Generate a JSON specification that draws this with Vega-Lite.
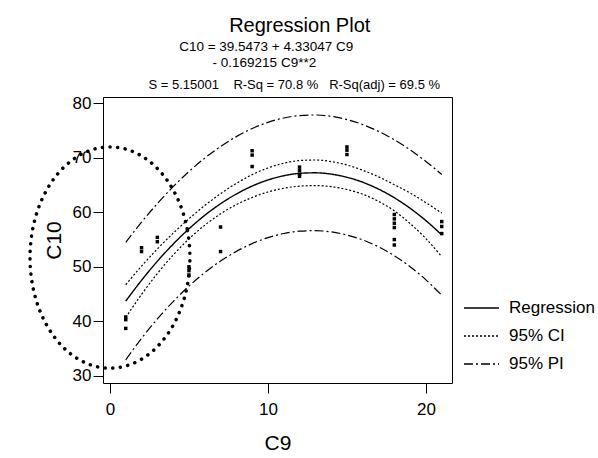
{
  "$schema": "https://vega.github.io/schema/vega-lite/v6.json",
  "width": 349,
  "height": 286,
  "autosize": {"type": "none"},
  "padding": {"left": 103, "top": 97, "right": 146, "bottom": 75},
  "background": "white",
  "config": {
    "font": "Liberation Sans",
    "view": {"stroke": "black", "strokeWidth": 1},
    "axis": {"grid": false, "domain": false, "tickColor": "black", "labelColor": "black", "titleColor": "black", "titleFontWeight": "normal", "labelFont": "Liberation Sans", "titleFont": "Liberation Sans"},
    "axisY": {"tickSize": 10, "labelFontSize": 17, "labelPadding": 2, "titleFontSize": 21, "titlePadding": 8, "labelFlush": false}
  },
  "title": {
    "text": "\u200b\u00a0\u00a0\u00a0\u00a0\u00a0\u00a0\u00a0\u00a0Regression Plot",
    "subtitle": ["C10 = 39.5473 + 4.33047 C9\u00a0\u00a0\u00a0\u00a0\u00a0\u00a0\u200b", "- 0.169215 C9**2\u00a0\u00a0\u00a0\u00a0\u00a0\u00a0\u00a0\u200b"],
    "anchor": "middle",
    "frame": "group",
    "font": "Liberation Sans",
    "subtitleFont": "Liberation Sans",
    "fontSize": 20,
    "fontWeight": "normal",
    "color": "black",
    "subtitleFontSize": 13.5,
    "subtitleColor": "black",
    "subtitleLineHeight": 16,
    "subtitlePadding": 4,
    "offset": 9
  },
  "datasets": {
    "pts": [
      {"x": 1, "y": 40.8}, {"x": 1, "y": 40.3}, {"x": 1, "y": 38.7},
      {"x": 2, "y": 53.5}, {"x": 2, "y": 52.8},
      {"x": 3, "y": 55.4}, {"x": 3, "y": 54.6},
      {"x": 5, "y": 50.0}, {"x": 5, "y": 49.3}, {"x": 5, "y": 48.5},
      {"x": 7, "y": 57.3}, {"x": 7, "y": 52.8},
      {"x": 9, "y": 71.3}, {"x": 9, "y": 70.5}, {"x": 9, "y": 68.4},
      {"x": 12, "y": 68.3}, {"x": 12, "y": 67.7}, {"x": 12, "y": 67.0}, {"x": 12, "y": 66.6},
      {"x": 15, "y": 72.0}, {"x": 15, "y": 71.4}, {"x": 15, "y": 70.6},
      {"x": 18, "y": 59.6}, {"x": 18, "y": 58.8}, {"x": 18, "y": 58.0}, {"x": 18, "y": 57.2}, {"x": 18, "y": 55.0}, {"x": 18, "y": 54.0},
      {"x": 21, "y": 58.3}, {"x": 21, "y": 57.4}, {"x": 21, "y": 56.1}
    ],
    "fit": [
      {"x": 1, "fit": 43.71, "ciLo": 40.71, "ciHi": 46.71, "piLo": 32.93, "piHi": 54.49},
      {"x": 2, "fit": 47.53, "ciLo": 44.93, "ciHi": 50.13, "piLo": 36.86, "piHi": 58.20},
      {"x": 3, "fit": 51.02, "ciLo": 48.77, "ciHi": 53.27, "piLo": 40.43, "piHi": 61.61},
      {"x": 4, "fit": 54.16, "ciLo": 52.16, "ciHi": 56.16, "piLo": 43.62, "piHi": 64.70},
      {"x": 5, "fit": 56.97, "ciLo": 55.12, "ciHi": 58.82, "piLo": 46.46, "piHi": 67.48},
      {"x": 6, "fit": 59.44, "ciLo": 57.64, "ciHi": 61.24, "piLo": 48.94, "piHi": 69.94},
      {"x": 7, "fit": 61.57, "ciLo": 59.72, "ciHi": 63.42, "piLo": 51.06, "piHi": 72.08},
      {"x": 8, "fit": 63.36, "ciLo": 61.41, "ciHi": 65.31, "piLo": 52.83, "piHi": 73.89},
      {"x": 9, "fit": 64.82, "ciLo": 62.72, "ciHi": 66.92, "piLo": 54.26, "piHi": 75.38},
      {"x": 10, "fit": 65.93, "ciLo": 63.73, "ciHi": 68.13, "piLo": 55.35, "piHi": 76.51},
      {"x": 11, "fit": 66.71, "ciLo": 64.41, "ciHi": 69.01, "piLo": 56.11, "piHi": 77.31},
      {"x": 12, "fit": 67.15, "ciLo": 64.80, "ciHi": 69.50, "piLo": 56.54, "piHi": 77.76},
      {"x": 13, "fit": 67.25, "ciLo": 64.90, "ciHi": 69.60, "piLo": 56.64, "piHi": 77.86},
      {"x": 14, "fit": 67.01, "ciLo": 64.71, "ciHi": 69.31, "piLo": 56.41, "piHi": 77.61},
      {"x": 15, "fit": 66.43, "ciLo": 64.18, "ciHi": 68.68, "piLo": 55.84, "piHi": 77.02},
      {"x": 16, "fit": 65.52, "ciLo": 63.32, "ciHi": 67.72, "piLo": 54.94, "piHi": 76.10},
      {"x": 17, "fit": 64.26, "ciLo": 62.01, "ciHi": 66.51, "piLo": 53.67, "piHi": 74.85},
      {"x": 18, "fit": 62.67, "ciLo": 60.27, "ciHi": 65.07, "piLo": 52.04, "piHi": 73.30},
      {"x": 19, "fit": 60.74, "ciLo": 57.94, "ciHi": 63.54, "piLo": 50.02, "piHi": 71.46},
      {"x": 20, "fit": 58.47, "ciLo": 55.17, "ciHi": 61.77, "piLo": 47.61, "piHi": 69.33},
      {"x": 21, "fit": 55.86, "ciLo": 51.86, "ciHi": 59.86, "piLo": 44.77, "piHi": 66.95}
    ],
    "ell": [
      {"i": 0, "x": 5.06, "y": 51.7}, {"i": 1, "x": 4.888, "y": 56.95}, {"i": 2, "x": 4.382, "y": 61.85},
      {"i": 3, "x": 3.578, "y": 66.05}, {"i": 4, "x": 2.53, "y": 69.28}, {"i": 5, "x": 1.31, "y": 71.31},
      {"i": 6, "x": 0, "y": 72.0}, {"i": 7, "x": -1.31, "y": 71.31}, {"i": 8, "x": -2.53, "y": 69.28},
      {"i": 9, "x": -3.578, "y": 66.05}, {"i": 10, "x": -4.382, "y": 61.85}, {"i": 11, "x": -4.888, "y": 56.95},
      {"i": 12, "x": -5.06, "y": 51.7}, {"i": 13, "x": -4.888, "y": 46.45}, {"i": 14, "x": -4.382, "y": 41.55},
      {"i": 15, "x": -3.578, "y": 37.35}, {"i": 16, "x": -2.53, "y": 34.12}, {"i": 17, "x": -1.31, "y": 32.09},
      {"i": 18, "x": 0, "y": 31.4}, {"i": 19, "x": 1.31, "y": 32.09}, {"i": 20, "x": 2.53, "y": 34.12},
      {"i": 21, "x": 3.578, "y": 37.35}, {"i": 22, "x": 4.382, "y": 41.55}, {"i": 23, "x": 4.888, "y": 46.45}
    ]
  },
  "resolve": {"axis": {"x": "independent"}},
  "layer": [
    {
      "data": {"name": "pts"},
      "mark": {"type": "point", "shape": "square", "filled": true, "size": 12, "color": "black", "opacity": 1},
      "encoding": {
        "x": {"field": "x", "type": "quantitative", "scale": {"domain": [-0.44, 21.65], "nice": false, "zero": false},
              "axis": {"orient": "bottom", "values": [0, 10, 20], "title": "C9", "tickSize": 10, "labelFontSize": 17, "labelPadding": 8, "titleFontSize": 21, "titlePadding": 15, "labelFlush": false}},
        "y": {"field": "y", "type": "quantitative", "scale": {"domain": [28.68, 81.16], "nice": false, "zero": false},
              "axis": {"values": [30, 40, 50, 60, 70, 80], "title": "C10"}}
      }
    },
    {
      "data": {"name": "fit"},
      "mark": {"type": "line", "color": "black", "strokeWidth": 1.4, "interpolate": "monotone"},
      "encoding": {
        "x": {"field": "x", "type": "quantitative",
              "axis": {"orient": "top", "title": "\u200b\u00a0\u00a0\u00a0\u00a0\u00a0\u00a0\u00a0\u00a0\u00a0S = 5.15001\u00a0\u00a0\u00a0\u00a0R-Sq = 70.8 %\u00a0\u00a0\u00a0R-Sq(adj) = 69.5 %", "labels": false, "ticks": false, "domain": false, "titleFontSize": 13, "titlePadding": 6}},
        "y": {"field": "fit", "type": "quantitative", "axis": {"values": [30, 40, 50, 60, 70, 80], "title": "C10"}},
        "strokeDash": {"datum": "Regression", "type": "nominal",
                       "scale": {"domain": ["Regression", "95% CI", "95% PI"], "range": [[1, 0], [2, 2], [9, 3, 2, 3]]},
                       "legend": {"title": null, "orient": "none", "legendX": 360, "legendY": 201, "labelFontSize": 17, "labelColor": "black", "labelFont": "Liberation Sans", "symbolSize": 1225, "symbolType": "stroke", "symbolStrokeColor": "black", "symbolStrokeWidth": 1.3, "clipHeight": 20, "rowPadding": 8, "labelOffset": 9, "padding": 0}}
      }
    },
    {
      "data": {"name": "fit"},
      "mark": {"type": "line", "color": "black", "strokeWidth": 1.2, "interpolate": "monotone"},
      "encoding": {
        "x": {"field": "x", "type": "quantitative", "axis": null},
        "y": {"field": "ciHi", "type": "quantitative", "axis": {"values": [30, 40, 50, 60, 70, 80], "title": "C10"}},
        "strokeDash": {"datum": "95% CI", "type": "nominal"}
      }
    },
    {
      "data": {"name": "fit"},
      "mark": {"type": "line", "color": "black", "strokeWidth": 1.2, "interpolate": "monotone"},
      "encoding": {
        "x": {"field": "x", "type": "quantitative", "axis": null},
        "y": {"field": "ciLo", "type": "quantitative", "axis": {"values": [30, 40, 50, 60, 70, 80], "title": "C10"}},
        "strokeDash": {"datum": "95% CI", "type": "nominal"}
      }
    },
    {
      "data": {"name": "fit"},
      "mark": {"type": "line", "color": "black", "strokeWidth": 1.2, "interpolate": "monotone"},
      "encoding": {
        "x": {"field": "x", "type": "quantitative", "axis": null},
        "y": {"field": "piHi", "type": "quantitative", "axis": {"values": [30, 40, 50, 60, 70, 80], "title": "C10"}},
        "strokeDash": {"datum": "95% PI", "type": "nominal"}
      }
    },
    {
      "data": {"name": "fit"},
      "mark": {"type": "line", "color": "black", "strokeWidth": 1.2, "interpolate": "monotone"},
      "encoding": {
        "x": {"field": "x", "type": "quantitative", "axis": null},
        "y": {"field": "piLo", "type": "quantitative", "axis": {"values": [30, 40, 50, 60, 70, 80], "title": "C10"}},
        "strokeDash": {"datum": "95% PI", "type": "nominal"}
      }
    },
    {
      "data": {"name": "ell"},
      "mark": {"type": "line", "color": "black", "strokeWidth": 3.5, "strokeDash": [0.1, 7.5], "strokeCap": "round", "interpolate": "cardinal-closed", "clip": false},
      "encoding": {
        "x": {"field": "x", "type": "quantitative", "axis": null},
        "y": {"field": "y", "type": "quantitative", "axis": {"values": [30, 40, 50, 60, 70, 80], "title": "C10"}},
        "order": {"field": "i", "type": "quantitative"}
      }
    }
  ]
}
